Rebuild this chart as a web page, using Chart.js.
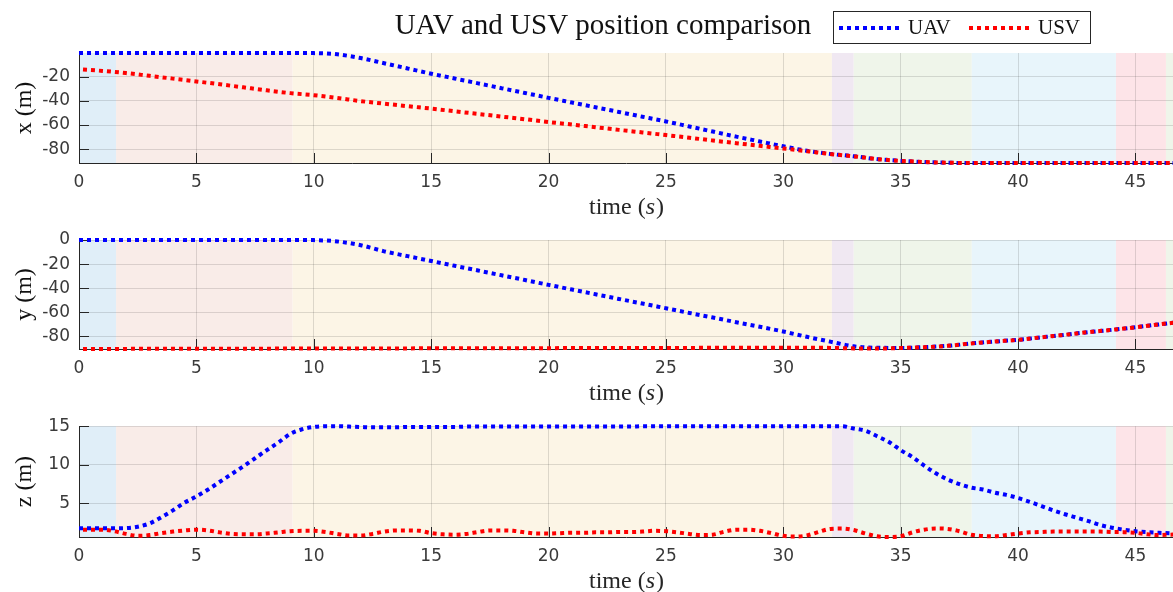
<!DOCTYPE html>
<html>
<head>
<meta charset="utf-8"/>
<title>UAV and USV position comparison</title>
<script src="https://cdn.jsdelivr.net/npm/chart.js"></script>
<style>
body{margin:0;background:#fff;width:1173px;height:592px;overflow:hidden;position:relative}
canvas{position:absolute;left:0}
</style>
</head>
<body>
<canvas id="chart.X" width="1173" height="220" style="top:0"></canvas>
<canvas id="chart.Y" width="1173" height="187" style="top:220px"></canvas>
<canvas id="chart.Z" width="1173" height="185" style="top:407px"></canvas>
<script>
// time axis (s)
const T_COARSE=[0,1,2,3,4,5,6,7,8,9,10,11,12,13,14,15,16,17,18,19,20,21,22,23,24,25,26,27,28,29,30,31,32,33,34,35,36,37,38,39,40,41,42,43,44,45,46,47];
const T_FINE=[0,0.5,1,1.5,2,2.5,3,3.5,4,4.5,5,5.5,6,6.5,7,7.5,8,8.5,9,9.5,10,10.5,11,11.5,12,12.5,13,13.5,14,14.5,15,15.5,16,16.5,17,17.5,18,18.5,19,19.5,20,20.5,21,21.5,22,22.5,23,23.5,24,24.5,25,25.5,26,26.5,27,27.5,28,28.5,29,29.5,30,30.5,31,31.5,32,32.5,33,33.5,34,34.5,35,35.5,36,36.5,37,37.5,38,38.5,39,39.5,40,40.5,41,41.5,42,42.5,43,43.5,44,44.5,45,45.5,46,46.5,47];

// x position (m), per T_COARSE
const UAV_X=[-0.4,-0.4,-0.4,-0.4,-0.4,-0.4,-0.4,-0.4,-0.4,-0.4,-0.5,-1.5,-4.6,-8.9,-13.2,-17.5,-21.5,-25.5,-29.5,-33.5,-37.5,-41.4,-45.3,-49.2,-53.1,-57.0,-61.2,-65.4,-69.6,-73.6,-77.6,-81.3,-83.9,-85.8,-88.2,-89.6,-90.6,-91.2,-91.4,-91.4,-91.4,-91.4,-91.4,-91.4,-91.4,-91.4,-91.4,-91.4];
const USV_X=[-13.9,-15.2,-17.0,-19.3,-21.6,-23.9,-26.3,-28.8,-31.3,-33.6,-35.3,-37.6,-40.2,-42.3,-44.4,-46.4,-48.6,-50.8,-53.0,-55.2,-57.5,-59.6,-61.8,-64.0,-66.1,-68.3,-70.5,-72.8,-75.0,-77.2,-79.4,-81.6,-84.0,-85.9,-88.2,-89.6,-90.6,-91.2,-91.4,-91.4,-91.4,-91.4,-91.4,-91.4,-91.4,-91.4,-91.4,-91.4];

// y position (m), per T_COARSE
const UAV_Y=[0,0,0,0,0,0,0,0,0,0,-0.1,-1.2,-4.3,-9.4,-13.4,-17.4,-21.4,-25.3,-29.3,-33.2,-37.2,-41.1,-45.0,-48.9,-52.7,-56.6,-60.5,-64.3,-68.2,-72.0,-75.9,-80.3,-84.3,-88.2,-89.4,-89.5,-88.8,-87.8,-85.8,-84.2,-82.8,-80.7,-78.6,-76.4,-74.5,-72.4,-70.0,-67.8];
const USV_Y=[-90.3,-90.3,-90.3,-90.2,-90.2,-90.2,-90.1,-90.1,-90.1,-90.0,-90.0,-90.0,-89.9,-89.9,-89.9,-89.8,-89.8,-89.8,-89.7,-89.7,-89.7,-89.6,-89.6,-89.6,-89.5,-89.5,-89.5,-89.4,-89.4,-89.4,-89.3,-89.3,-89.5,-89.9,-90.0,-89.6,-88.9,-87.8,-85.8,-84.2,-82.8,-80.7,-78.6,-76.4,-74.5,-72.4,-70.0,-67.8];

// z position (m), per T_FINE
const UAV_Z=[1.77,1.77,1.77,1.77,1.8,1.98,2.4,3.2,4.1,5.1,5.9,6.8,7.8,8.8,9.8,10.85,11.9,12.9,14.0,14.6,14.9,15.0,15.0,14.95,14.9,14.85,14.85,14.85,14.9,14.9,14.9,14.9,14.9,14.95,14.95,14.95,14.95,14.95,14.95,14.95,14.95,14.95,14.95,14.95,14.95,14.95,14.95,14.95,15.0,15.0,15.0,15.0,15.0,15.0,15.0,15.0,15.0,15.0,15.0,15.0,15.0,15.0,15.0,15.0,15.0,15.0,14.7,14.4,13.7,12.95,11.9,11.0,9.9,8.9,8.1,7.5,7.05,6.8,6.4,6.1,5.7,5.2,4.65,4.1,3.6,3.15,2.7,2.2,1.85,1.6,1.4,1.28,1.2,1.12,1.08];
const USV_Z=[1.6,1.6,1.6,1.4,1.05,0.8,0.9,1.15,1.35,1.5,1.6,1.5,1.25,1.05,1.0,1.0,1.1,1.25,1.4,1.45,1.45,1.3,1.05,0.85,0.85,1.05,1.35,1.5,1.5,1.45,1.15,1.0,0.95,1.05,1.3,1.5,1.5,1.45,1.25,1.1,1.1,1.15,1.2,1.2,1.25,1.25,1.3,1.3,1.35,1.45,1.4,1.25,1.05,0.9,0.95,1.35,1.6,1.6,1.45,1.15,0.8,0.7,0.85,1.3,1.7,1.75,1.55,1.1,0.75,0.65,0.75,1.25,1.6,1.75,1.7,1.4,0.95,0.78,0.75,0.9,1.1,1.25,1.3,1.35,1.35,1.35,1.35,1.35,1.3,1.28,1.2,1.0,0.9,0.95,1.0];

// mission phase bands (s)
const BAND_EDGES=[0,1.58,9.1,32.07,33.0,38.03,44.17,46.3,47];
const BAND_COLORS=['#e0eef8','#f9ece8','#fcf5e6','#f0e8f2','#eff5ea','#e8f5fb','#fde4e8','#eff5ea'];

const X_TICKS=[0,5,10,15,20,25,30,35,40,45];
const YX_TICKS=[-80,-60,-40,-20];
const YY_TICKS=[-80,-60,-40,-20,0];
const YZ_TICKS=[5,10,15];

const INK='#262626';
const LABEL='#3a3a3a';
const SERIF='"Liberation Serif", "DejaVu Serif", serif';
const SANS='"DejaVu Sans", sans-serif';
const LW=4;
const DOT=[4,4];

const decor={
	id:'decor',
	beforeDraw(chart){
		const {ctx,chartArea:a,scales:{x}}=chart;
		ctx.save();
		for(let i=0;i<BAND_COLORS.length;i++){
			let x0=Math.max(a.left,x.getPixelForValue(BAND_EDGES[i]));
			let x1=Math.min(a.right,x.getPixelForValue(BAND_EDGES[i+1]));
			if(x1<=x0) continue;
			ctx.fillStyle=BAND_COLORS[i];
			ctx.fillRect(x0,a.top,x1-x0,a.bottom-a.top);
		}
		ctx.restore();
	},
	beforeDatasetsDraw(chart){
		const {ctx,chartArea:a,scales:{x,y}}=chart;
		ctx.save();
		ctx.strokeStyle=INK;
		ctx.lineWidth=1;
		ctx.beginPath();
		x.ticks.forEach(t=>{
			if(t.value===0) return;
			let p=Math.round(x.getPixelForValue(t.value))+0.5;
			ctx.moveTo(p,a.bottom);ctx.lineTo(p,a.bottom-10);
		});
		y.ticks.forEach(t=>{
			let p=Math.round(y.getPixelForValue(t.value))+0.5;
			ctx.moveTo(a.left,p);ctx.lineTo(a.left+10,p);
		});
		ctx.stroke();
		ctx.restore();
	},
	afterDraw(chart,args,opts){
		const {ctx,chartArea:a}=chart;
		ctx.save();
		// x axis title: time (s) with italic s
		ctx.fillStyle=INK;
		ctx.textBaseline='middle';
		let f1='24px '+SERIF, f2='italic 24px '+SERIF;
		ctx.font=f1; let w1=ctx.measureText('time (').width, w3=ctx.measureText(')').width;
		ctx.font=f2; let w2=ctx.measureText('s').width;
		let cx=(a.left+a.right)/2, sx=cx-(w1+w2+w3)/2, ty=a.bottom+45;
		ctx.textAlign='left';
		ctx.font=f1; ctx.fillText('time (',sx,ty);
		ctx.font=f2; ctx.fillText('s',sx+w1,ty);
		ctx.font=f1; ctx.fillText(')',sx+w1+w2+1,ty);
		if(opts.head){
			ctx.fillStyle='#111';
			ctx.font='29px '+SERIF;
			ctx.textAlign='center';
			ctx.fillText('UAV and USV position comparison',603,26);
			// legend
			ctx.fillStyle='#fff';
			ctx.fillRect(833.5,11.5,257,32);
			ctx.strokeStyle=INK;ctx.lineWidth=1;
			ctx.strokeRect(833.5,11.5,257,32);
			const items=[['UAV','#0000ff',839,908],['USV','#ff0000',969,1038]];
			items.forEach(it=>{
				ctx.strokeStyle=it[1];ctx.lineWidth=LW;ctx.setLineDash(DOT);ctx.lineCap='butt';
				ctx.beginPath();ctx.moveTo(it[2],28);ctx.lineTo(it[2]+62,28);ctx.stroke();
				ctx.setLineDash([]);
				ctx.fillStyle='#111';ctx.font='21px '+SERIF;ctx.textAlign='left';
				ctx.fillText(it[0],it[3],28);
			});
		}
		ctx.restore();
	}
};

function pts(t,v){return t.map((ti,i)=>({x:ti,y:v[i]}));}

function makeChart(id,o){
	return new Chart(document.getElementById(id),{
		type:'line',
		data:{datasets:[
			{label:'UAV',data:pts(o.time,o.uav),borderColor:'#0000ff',borderWidth:LW,borderDash:DOT,borderCapStyle:'butt',pointRadius:0,cubicInterpolationMode:'monotone',clip:false,order:1},
			{label:'USV',data:pts(o.time,o.usv),borderColor:'#ff0000',borderWidth:LW,borderDash:DOT,borderDashOffset:4,borderCapStyle:'butt',pointRadius:0,cubicInterpolationMode:'monotone',clip:false,order:0}
		]},
		options:{
			responsive:false,animation:false,devicePixelRatio:1,
			layout:{padding:{top:o.padTop,left:0,right:0,bottom:0}},
			plugins:{legend:{display:false},tooltip:{enabled:false},title:{display:false},decor:{head:!!o.head}},
			scales:{
				x:{type:'linear',min:0,max:46.6,
					afterBuildTicks:s=>{s.ticks=X_TICKS.map(v=>({value:v}));},
					afterFit:s=>{s.height=o.xHeight;},
					grid:{color:'rgba(38,38,38,0.15)',drawTicks:false},
					border:{color:INK},
					ticks:{padding:9,color:LABEL,font:{family:SANS,size:17},callback:v=>String(v)}
				},
				y:{min:o.yMin,max:o.yMax,
					afterBuildTicks:s=>{s.ticks=o.yTicks.map(v=>({value:v}));},
					afterFit:s=>{s.width=79;},
					grid:{color:'rgba(38,38,38,0.15)',drawTicks:false},
					border:{color:INK},
					ticks:{padding:9,color:LABEL,font:{family:SANS,size:17},callback:v=>String(v)},
					title:{display:true,text:o.yLabel,color:'#111',font:{family:SERIF,size:24},padding:{top:10,bottom:0}}
				}
			}
		},
		plugins:[decor]
	});
}

makeChart('chart.X',{time:T_COARSE,uav:UAV_X,usv:USV_X,yMin:-91.4,yMax:-0.4,yTicks:YX_TICKS,yLabel:'x (m)',padTop:53,xHeight:57,head:true});
makeChart('chart.Y',{time:T_COARSE,uav:UAV_Y,usv:USV_Y,yMin:-90.4,yMax:0,yTicks:YY_TICKS,yLabel:'y (m)',padTop:20,xHeight:58});
makeChart('chart.Z',{time:T_FINE,uav:UAV_Z,usv:USV_Z,yMin:0.65,yMax:15,yTicks:YZ_TICKS,yLabel:'z (m)',padTop:19,xHeight:55});
</script>
</body>
</html>
